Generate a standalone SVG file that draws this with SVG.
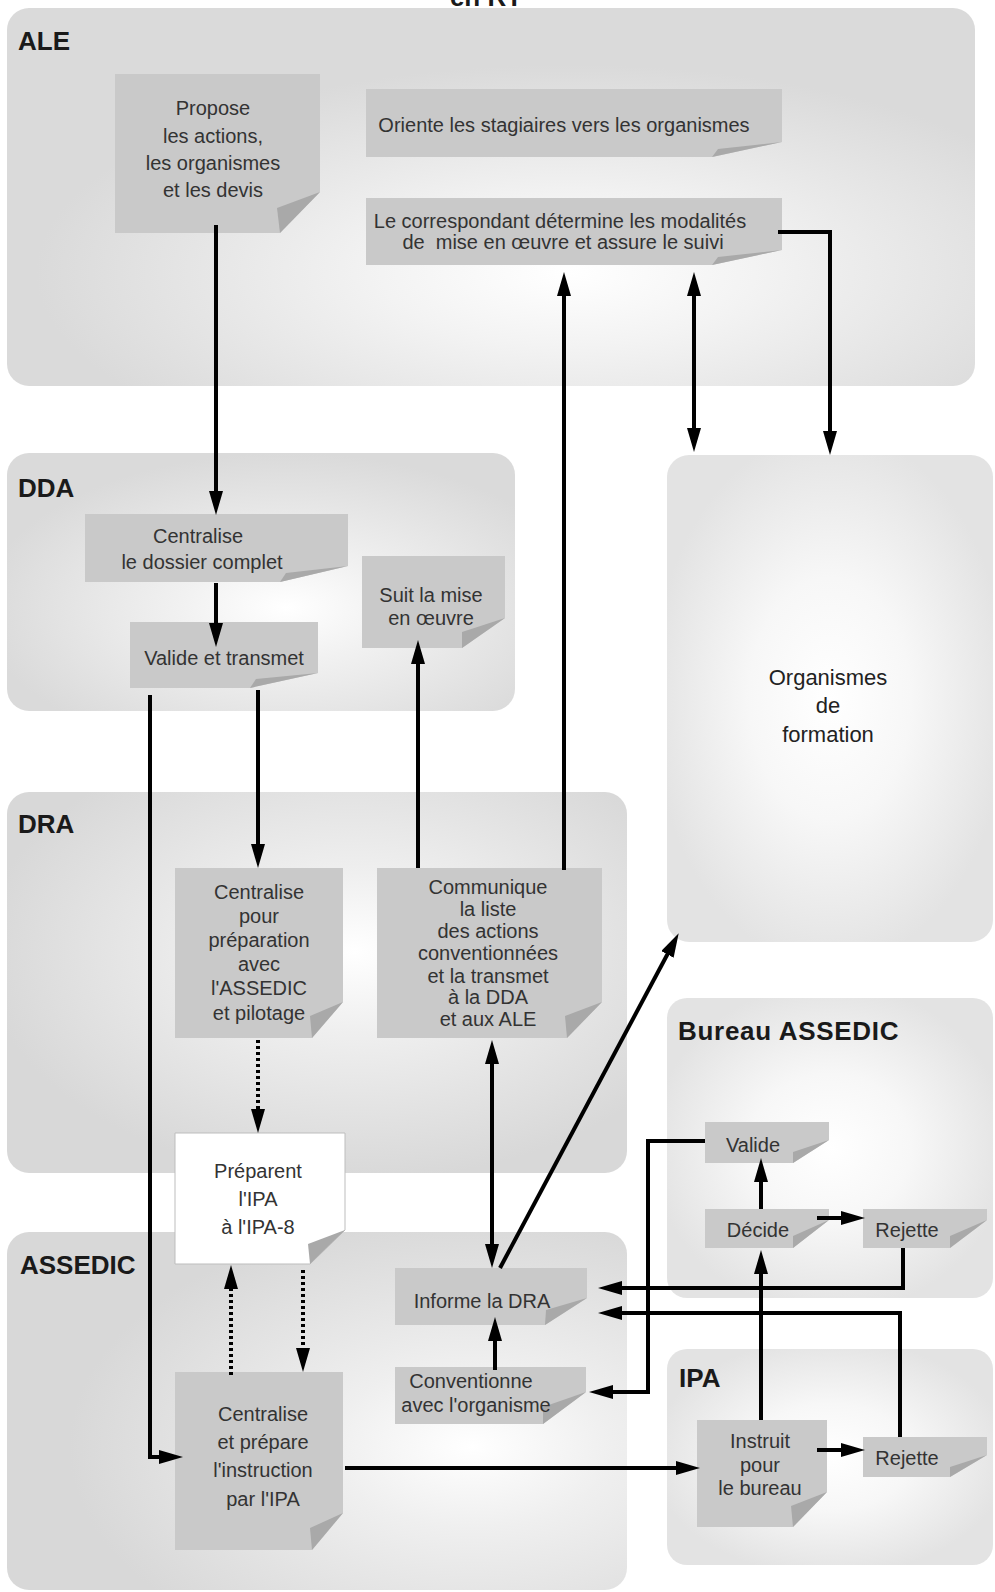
<svg xmlns="http://www.w3.org/2000/svg" width="995" height="1592" viewBox="0 0 995 1592">
<defs>
  <radialGradient id="gALE" cx="0.58" cy="0.7" r="0.55"><stop offset="0" stop-color="#ffffff"/><stop offset="0.35" stop-color="#f3f3f3"/><stop offset="1" stop-color="#dadada"/></radialGradient>
  <radialGradient id="gDDA" cx="0.55" cy="0.6" r="0.6"><stop offset="0" stop-color="#ffffff"/><stop offset="0.35" stop-color="#f1f1f1"/><stop offset="1" stop-color="#dadada"/></radialGradient>
  <radialGradient id="gDRA" cx="0.56" cy="0.42" r="0.6"><stop offset="0" stop-color="#ffffff"/><stop offset="0.35" stop-color="#efefef"/><stop offset="1" stop-color="#d8d8d8"/></radialGradient>
  <radialGradient id="gASS" cx="0.75" cy="0.6" r="0.65"><stop offset="0" stop-color="#ffffff"/><stop offset="0.35" stop-color="#efefef"/><stop offset="1" stop-color="#d8d8d8"/></radialGradient>
  <radialGradient id="gSoft" cx="0.5" cy="0.5" r="0.55"><stop offset="0" stop-color="#ffffff"/><stop offset="0.45" stop-color="#f7f7f7"/><stop offset="1" stop-color="#e3e3e3"/></radialGradient>
  <marker id="ah" markerUnits="userSpaceOnUse" markerWidth="24" markerHeight="14" viewBox="0 0 24 14" refX="14" refY="7" orient="auto-start-reverse">
    <path d="M0,0 L24,7 L0,14 Z" fill="#000"/>
  </marker>
  <style>
    .lane { stroke: none; }
    .lab { font-family: "Liberation Sans", Arial, sans-serif; font-weight: bold; font-size: 26px; fill: #1a1a1a; }
    .note { fill: #c9c9c9; }
    .white { fill: #ffffff; stroke: #bdbdbd; stroke-width: 1; }
    .flap { fill: #a9a9a9; }
    .t { font-family: "Liberation Sans", Arial, sans-serif; font-size: 20px; fill: #333333; text-anchor: middle; }
    .big { font-family: "Liberation Sans", Arial, sans-serif; font-size: 22px; fill: #222222; text-anchor: middle; }
    .c { fill: none; stroke: #000; stroke-width: 4; }
    .d { fill: none; stroke: #000; stroke-width: 4; stroke-dasharray: 3 3; }
  </style>
</defs>

<text x="486" y="6" class="lab" text-anchor="middle" font-size="26">en RT</text>

<!-- Containers -->
<g id="lane-ALE">
  <rect class="lane" x="7" y="8" width="968" height="378" rx="22" fill="url(#gALE)"/>
  <text class="lab" x="18" y="50">ALE</text>
</g>
<g id="lane-DDA">
  <rect class="lane" x="7" y="453" width="508" height="258" rx="22" fill="url(#gDDA)"/>
  <text class="lab" x="18" y="497">DDA</text>
</g>
<g id="lane-DRA">
  <rect class="lane" x="7" y="792" width="620" height="381" rx="22" fill="url(#gDRA)"/>
  <text class="lab" x="18" y="833">DRA</text>
</g>
<g id="lane-ASSEDIC">
  <rect class="lane" x="7" y="1232" width="620" height="358" rx="22" fill="url(#gASS)"/>
  <text class="lab" x="20" y="1274">ASSEDIC</text>
</g>
<g id="lane-organismes">
  <rect class="lane" x="667" y="455" width="326" height="487" rx="22" fill="url(#gSoft)"/>
  <text class="big" x="828" y="685">Organismes</text>
  <text class="big" x="828" y="713">de</text>
  <text class="big" x="828" y="742">formation</text>
</g>
<g id="lane-bureau">
  <rect class="lane" x="667" y="998" width="326" height="300" rx="20" fill="url(#gSoft)"/>
  <text class="lab" x="678" y="1040" letter-spacing="0.7">Bureau ASSEDIC</text>
</g>
<g id="lane-IPA">
  <rect class="lane" x="667" y="1349" width="326" height="216" rx="20" fill="url(#gSoft)"/>
  <text class="lab" x="679" y="1387">IPA</text>
</g>

<!-- Nodes -->
<g id="n-propose">
  <path class="note" d="M115,74 H320 V192 L280,233 H115 Z"/>
  <path class="flap" d="M320,192 L280,233 L277,208 Z"/>
  <text class="t" x="213" y="115">Propose</text>
  <text class="t" x="213" y="143">les actions,</text>
  <text class="t" x="213" y="170">les organismes</text>
  <text class="t" x="213" y="197">et les devis</text>
</g>
<g id="n-oriente">
  <path class="note" d="M366,89 H782 V142 L712,157 H366 Z"/>
  <path class="flap" d="M782,142 L712,157 L718,149 Z"/>
  <text class="t" x="564" y="132">Oriente les stagiaires vers les organismes</text>
</g>
<g id="n-correspondant">
  <path class="note" d="M366,198 H782 V250 L712,265 H366 Z"/>
  <path class="flap" d="M782,250 L712,265 L718,257 Z"/>
  <text class="t" x="560" y="228">Le correspondant détermine les modalités</text>
  <text class="t" x="563" y="249" xml:space="preserve">de  mise en œuvre et assure le suivi</text>
</g>
<g id="n-centralise-dda">
  <path class="note" d="M85,514 H348 V566 L280,582 H85 Z"/>
  <path class="flap" d="M348,566 L280,582 L286,573 Z"/>
  <text class="t" x="198" y="543">Centralise</text>
  <text class="t" x="202" y="569">le dossier complet</text>
</g>
<g id="n-valide-transmet">
  <path class="note" d="M130,622 H318 V673 L250,688 H130 Z"/>
  <path class="flap" d="M318,673 L250,688 L256,679 Z"/>
  <text class="t" x="224" y="665">Valide et transmet</text>
</g>
<g id="n-suit">
  <path class="note" d="M362,556 H505 V618 L462,648 H362 Z"/>
  <path class="flap" d="M505,618 L462,648 L462,632 Z"/>
  <text class="t" x="431" y="602">Suit la mise</text>
  <text class="t" x="431" y="625">en œuvre</text>
</g>
<g id="n-centralise-pour">
  <path class="note" d="M175,868 H343 V1002 L312,1038 H175 Z"/>
  <path class="flap" d="M343,1002 L312,1038 L310,1016 Z"/>
  <text class="t" x="259" y="899">Centralise</text>
  <text class="t" x="259" y="923">pour</text>
  <text class="t" x="259" y="947">préparation</text>
  <text class="t" x="259" y="971">avec</text>
  <text class="t" x="259" y="995">l'ASSEDIC</text>
  <text class="t" x="259" y="1020">et pilotage</text>
</g>
<g id="n-communique">
  <path class="note" d="M377,868 H602 V1002 L567,1038 H377 Z"/>
  <path class="flap" d="M602,1002 L567,1038 L565,1016 Z"/>
  <text class="t" x="488" y="894">Communique</text>
  <text class="t" x="488" y="916">la liste</text>
  <text class="t" x="488" y="938">des actions</text>
  <text class="t" x="488" y="960">conventionnées</text>
  <text class="t" x="488" y="983">et la transmet</text>
  <text class="t" x="488" y="1004">à la DDA</text>
  <text class="t" x="488" y="1026">et aux ALE</text>
</g>
<g id="n-preparent">
  <path class="white" d="M175,1133 H345 V1230 L310,1264 H175 Z"/>
  <path class="flap" d="M345,1230 L310,1264 L308,1244 Z"/>
  <text class="t" x="258" y="1178">Préparent</text>
  <text class="t" x="258" y="1206">l'IPA</text>
  <text class="t" x="258" y="1234">à l'IPA-8</text>
</g>
<g id="n-informe">
  <path class="note" d="M395,1268 H587 V1298 L545,1325 H395 Z"/>
  <path class="flap" d="M587,1298 L545,1325 L546,1310 Z"/>
  <text class="t" x="482" y="1308">Informe la DRA</text>
</g>
<g id="n-conventionne">
  <path class="note" d="M395,1367 H586 V1392 L543,1424 H395 Z"/>
  <path class="flap" d="M586,1392 L543,1424 L543,1407 Z"/>
  <text class="t" x="471" y="1388">Conventionne</text>
  <text class="t" x="476" y="1412">avec l'organisme</text>
</g>
<g id="n-centralise-prepare">
  <path class="note" d="M175,1372 H343 V1513 L312,1550 H175 Z"/>
  <path class="flap" d="M343,1513 L312,1550 L310,1528 Z"/>
  <text class="t" x="263" y="1421">Centralise</text>
  <text class="t" x="263" y="1449">et prépare</text>
  <text class="t" x="263" y="1477">l'instruction</text>
  <text class="t" x="263" y="1506">par l'IPA</text>
</g>
<g id="n-valide">
  <path class="note" d="M705,1122 H829 V1140 L793,1163 H705 Z"/>
  <path class="flap" d="M829,1140 L793,1163 L793,1152 Z"/>
  <text class="t" x="753" y="1152">Valide</text>
</g>
<g id="n-decide">
  <path class="note" d="M705,1209 H829 V1220 L793,1248 H705 Z"/>
  <path class="flap" d="M829,1220 L793,1248 L793,1236 Z"/>
  <text class="t" x="758" y="1237">Décide</text>
</g>
<g id="n-rejette-bureau">
  <path class="note" d="M863,1209 H987 V1220 L950,1248 H863 Z"/>
  <path class="flap" d="M987,1220 L950,1248 L950,1236 Z"/>
  <text class="t" x="907" y="1237">Rejette</text>
</g>
<g id="n-instruit">
  <path class="note" d="M697,1420 H827 V1492 L793,1527 H697 Z"/>
  <path class="flap" d="M827,1492 L793,1527 L791,1506 Z"/>
  <text class="t" x="760" y="1448">Instruit</text>
  <text class="t" x="760" y="1472">pour</text>
  <text class="t" x="760" y="1495">le bureau</text>
</g>
<g id="n-rejette-ipa">
  <path class="note" d="M863,1437 H987 V1455 L950,1477 H863 Z"/>
  <path class="flap" d="M987,1455 L950,1477 L950,1467 Z"/>
  <text class="t" x="907" y="1465">Rejette</text>
</g>

<!-- Connectors -->
<g id="connectors">
  <path class="c" d="M216,225 V505" marker-end="url(#ah)"/>
  <path class="c" d="M216,583 V637" marker-end="url(#ah)"/>
  <path class="c" d="M150,695 V1457 H173" marker-end="url(#ah)"/>
  <path class="c" d="M258,690 V858" marker-end="url(#ah)"/>
  <path class="d" d="M258,1040 V1123" marker-end="url(#ah)"/>
  <path class="d" d="M231,1375 V1275" marker-end="url(#ah)"/>
  <path class="d" d="M303,1270 V1362" marker-end="url(#ah)"/>
  <path class="c" d="M418,868 V650" marker-end="url(#ah)"/>
  <path class="c" d="M564,870 V282" marker-end="url(#ah)"/>
  <path class="c" d="M694,282 V442" marker-start="url(#ah)" marker-end="url(#ah)"/>
  <path class="c" d="M778,232 H830 V445" marker-end="url(#ah)"/>
  <path class="c" d="M492,1050 V1258" marker-start="url(#ah)" marker-end="url(#ah)"/>
  <path class="c" d="M500,1268 L674,942" marker-end="url(#ah)"/>
  <path class="c" d="M495,1370 V1327" marker-end="url(#ah)"/>
  <path class="c" d="M705,1141 H648 V1392 H599" marker-end="url(#ah)"/>
  <path class="c" d="M903,1248 V1288 H608" marker-end="url(#ah)"/>
  <path class="c" d="M900,1437 V1313 H608" marker-end="url(#ah)"/>
  <path class="c" d="M761,1420 V1260" marker-end="url(#ah)"/>
  <path class="c" d="M761,1209 V1168" marker-end="url(#ah)"/>
  <path class="c" d="M817,1218 H855" marker-end="url(#ah)"/>
  <path class="c" d="M817,1450 H855" marker-end="url(#ah)"/>
  <path class="c" d="M345,1468 H690" marker-end="url(#ah)"/>
</g>
</svg>
